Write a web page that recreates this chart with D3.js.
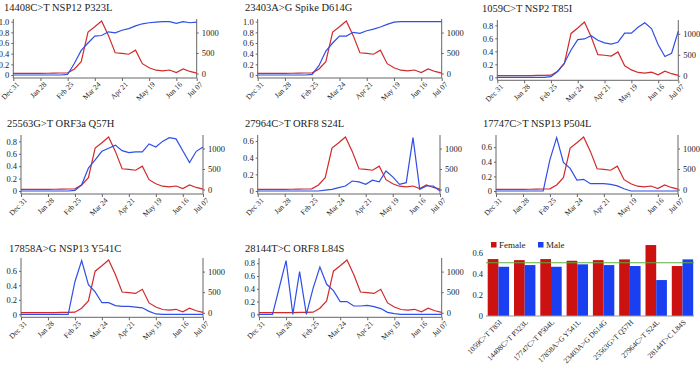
<!DOCTYPE html>
<html>
<head>
<meta charset="utf-8">
<script src="https://cdn.jsdelivr.net/npm/d3@7"></script>
<style>
    body { margin: 0; background: #fff; }
    svg text { font-family: "Liberation Serif", "DejaVu Serif", serif; fill: #222; }
    .axis line { stroke: #666; }
    .axis path { display: none; }
</style>
</head>
<body>
<svg id="chart" width="700" height="365"></svg>
<script>
/** DATA */
const weeks = ["2019-12-31", "2020-01-07", "2020-01-14", "2020-01-21", "2020-01-28", "2020-02-04", "2020-02-11",
    "2020-02-18", "2020-02-25", "2020-03-03", "2020-03-10", "2020-03-17", "2020-03-24", "2020-03-31",
    "2020-04-07", "2020-04-14", "2020-04-21", "2020-04-28", "2020-05-05", "2020-05-12", "2020-05-19",
    "2020-05-26", "2020-06-02", "2020-06-09", "2020-06-16", "2020-06-23", "2020-06-30", "2020-07-07"]
const tickWeeks = ["2019-12-31", "2020-01-28", "2020-02-25", "2020-03-24", "2020-04-21", "2020-05-19", "2020-06-16", "2020-07-07"]

// weekly number of sequences (right axis, red line) - same in every panel
const weeklyCount = [2, 3, 2, 4, 5, 6, 8, 12, 15, 110, 290, 1010, 1140, 1280, 930, 505, 490, 470, 570, 240,
    140, 80, 65, 85, 25, 110, 50, 10]
const countTicks = [0, 500, 1000]

// mutation frequency per week (left axis, blue line)
const freq14408 = [0, 0, 0, 0, 0, 0, 0, 0, 0.01, 0.22, 0.46, 0.6, 0.73, 0.74, 0.81, 0.79, 0.84, 0.87, 0.92, 0.96,
    0.98, 0.99, 1.0, 1.0, 0.97, 1.0, 0.98, 0.99]
const freq23403 = [0, 0, 0, 0, 0, 0, 0, 0, 0.01, 0.18, 0.45, 0.6, 0.73, 0.73, 0.8, 0.78, 0.83, 0.86, 0.9, 0.95,
    0.99, 1.0, 1.0, 1.0, 1.0, 1.0, 1.0, 1.0]
const freq1059 = [0, 0, 0, 0, 0, 0, 0, 0, 0.01, 0.09, 0.22, 0.42, 0.58, 0.59, 0.64, 0.57, 0.53, 0.51, 0.54, 0.68,
    0.68, 0.77, 0.84, 0.75, 0.5, 0.32, 0.37, 0.71]
const freq25563 = [0, 0, 0, 0, 0, 0, 0, 0, 0.01, 0.1, 0.37, 0.5, 0.64, 0.69, 0.74, 0.65, 0.62, 0.63, 0.63, 0.76,
    0.71, 0.8, 0.86, 0.84, 0.65, 0.46, 0.64, 0.71]
const freq27964 = [0, 0, 0, 0, 0, 0, 0, 0, 0, 0, 0.01, 0.02, 0.04, 0.06, 0.12, 0.11, 0.08, 0.13, 0.11, 0.24,
    0.17, 0.08, 0.1, 0.64, 0.02, 0.06, 0.06, 0]
const freq17747 = [0, 0, 0, 0, 0, 0, 0, 0, 0.43, 0.73, 0.39, 0.31, 0.15, 0.16, 0.1, 0.1, 0.1, 0.09, 0.07, 0.03,
    0, 0, 0, 0, 0, 0, 0, 0]
const freq17858 = [0, 0, 0, 0, 0, 0, 0, 0, 0.45, 0.74, 0.41, 0.31, 0.16, 0.16, 0.12, 0.11, 0.11, 0.1, 0.09, 0.04,
    0.005, 0, 0, 0, 0, 0, 0, 0]
const freq28144 = [0, 0, 0, 0.42, 0.84, 0, 0.67, 0, 0.41, 0.74, 0.47, 0.37, 0.2, 0.2, 0.13, 0.13, 0.14, 0.12, 0.09, 0.03,
    0.01, 0, 0, 0, 0, 0, 0, 0]

const panelTitles = ["14408C>T NSP12 P323L", "23403A>G Spike D614G", "1059C>T NSP2 T85I",
    "25563G>T ORF3a Q57H", "27964C>T ORF8 S24L", "17747C>T NSP13 P504L",
    "17858A>G NSP13 Y541C", "28144T>C ORF8 L84S"]
const panelFreqs = [freq14408, freq23403, freq1059, freq25563, freq27964, freq17747, freq17858, freq28144]

// bar chart: share of female / male among carriers
const barCategories = ["1059C>T T85I", "14408C>T P323L", "17747C>T P504L", "17858A>G Y541L",
    "23403A>G D614G", "25563G>T Q57H", "27964C>T S24L", "28144T>C L84S"]
const femaleShare = [0.54, 0.53, 0.54, 0.524, 0.53, 0.537, 0.673, 0.474]
const maleShare = [0.467, 0.483, 0.467, 0.49, 0.483, 0.474, 0.341, 0.537]
const overallFemale = 0.505
const shareTicks = [0, 0.2, 0.4, 0.6]

/** LAYOUT */
const layout = [
    { x0: 13.3, x1: 196.7, top: 19, zero: 75, tx: 4, ty: 11 },
    { x0: 257.7, x1: 441.7, top: 19, zero: 75, tx: 245, ty: 11 },
    { x0: 497.3, x1: 678.3, top: 20, zero: 77.3, tx: 482, ty: 12 },
    { x0: 21, x1: 203, top: 135, zero: 191, tx: 7, ty: 127 },
    { x0: 257.7, x1: 440, top: 135, zero: 191, tx: 245, ty: 127 },
    { x0: 496, x1: 678, top: 135, zero: 191, tx: 483, ty: 127 },
    { x0: 21, x1: 203, top: 258, zero: 314.3, tx: 9, ty: 252 },
    { x0: 259, x1: 441.7, top: 258, zero: 314.3, tx: 245, ty: 252 }
]

const redLine = "#d02a2a",
    blueLine = "#2f4fe6",
    axisColor = "#666"

const parse = d3.timeParse("%Y-%m-%d")
const dates = weeks.map(parse)
const tickDates = tickWeeks.map(parse)
const fmtDate = d3.timeFormat("%b %d")
const fmtShare = d => d === 0 ? "0" : d3.format(".1f")(d)

const svg = d3.select("#chart")

/** SMALL MULTIPLES */
panelTitles.forEach((title, i) => {
    const L = layout[i]
    const freq = panelFreqs[i]
    const g = svg.append("g")

    const xScale = d3.scaleTime().domain(d3.extent(dates)).range([L.x0, L.x1])
    const leftMax = d3.max(freq) * 1.05
    const yLeft = d3.scaleLinear().domain([0, leftMax]).range([L.zero, L.top])
    const yRight = d3.scaleLinear().domain([0, 1330]).range([L.zero - 1.5, L.top])
    const base = L.zero + 3

    g.append("text")
        .attr("x", L.tx)
        .attr("y", L.ty)
        .attr("font-size", 10.5)
        .text(title)

    // axis lines
    g.append("line").attr("x1", L.x0).attr("x2", L.x1).attr("y1", base).attr("y2", base).attr("stroke", axisColor)
    g.append("line").attr("x1", L.x0).attr("x2", L.x0).attr("y1", L.top).attr("y2", base).attr("stroke", axisColor)
    g.append("line").attr("x1", L.x1).attr("x2", L.x1).attr("y1", L.top).attr("y2", base).attr("stroke", axisColor)

    g.append("g")
        .attr("class", "axis")
        .attr("transform", `translate(0,${base})`)
        .call(d3.axisBottom(xScale).tickValues(tickDates).tickFormat(fmtDate).tickSize(3))
        .call(ax => ax.selectAll("text")
            .attr("font-size", 7.5)
            .attr("x", 0).attr("y", 0).attr("dy", "0.35em")
            .attr("transform", "translate(4,5) rotate(-45)")
            .style("text-anchor", "end"))

    g.append("g")
        .attr("class", "axis")
        .attr("transform", `translate(${L.x0},0)`)
        .call(d3.axisLeft(yLeft).tickValues(d3.range(0, leftMax + 1e-9, 0.2)).tickFormat(fmtShare).tickSize(2).tickPadding(2))
        .call(ax => ax.selectAll("text").attr("font-size", 8.5))

    g.append("g")
        .attr("class", "axis")
        .attr("transform", `translate(${L.x1},0)`)
        .call(d3.axisRight(yRight).tickValues(countTicks).tickFormat(d3.format("d")).tickSize(2).tickPadding(3))
        .call(ax => ax.selectAll("text").attr("font-size", 8.5))

    const countLine = d3.line().x((d, j) => xScale(dates[j])).y(d => yRight(d))
    const freqLine = d3.line().x((d, j) => xScale(dates[j])).y(d => yLeft(d))

    g.append("path")
        .datum(weeklyCount)
        .attr("d", countLine)
        .attr("fill", "none")
        .attr("stroke", redLine)
        .attr("stroke-width", 1.2)

    g.append("path")
        .datum(freq)
        .attr("d", freqLine)
        .attr("fill", "none")
        .attr("stroke", blueLine)
        .attr("stroke-width", 1.2)
})

/** BAR CHART */
const barColors = { Female: "#cc1111", Male: "#1a3ff0" }
const xBand = d3.scaleBand().domain(barCategories).range([487.7, 693.2]).paddingInner(0.186)
const xSex = d3.scaleBand().domain(["Female", "Male"]).range([0, xBand.bandwidth()])
const yShare = d3.scaleLinear().domain([0, 0.7]).range([316, 242.2])

const bars = svg.append("g")
const barData = barCategories.flatMap((c, i) => [
    { cat: c, sex: "Female", v: femaleShare[i] },
    { cat: c, sex: "Male", v: maleShare[i] }
])

bars.selectAll("rect")
    .data(barData)
    .join("rect")
    .attr("x", d => xBand(d.cat) + xSex(d.sex))
    .attr("width", xSex.bandwidth())
    .attr("y", d => yShare(d.v))
    .attr("height", d => yShare(0) - yShare(d.v))
    .attr("fill", d => barColors[d.sex])

bars.append("line")
    .attr("x1", 486).attr("x2", 694)
    .attr("y1", yShare(overallFemale)).attr("y2", yShare(overallFemale))
    .attr("stroke", "#5fae3c").attr("stroke-width", 1.2)

bars.append("line")
    .attr("x1", 486).attr("x2", 694)
    .attr("y1", yShare(0)).attr("y2", yShare(0))
    .attr("stroke", "#999")

bars.append("g")
    .attr("class", "axis")
    .attr("transform", "translate(486,0)")
    .call(d3.axisLeft(yShare).tickValues(shareTicks).tickFormat(fmtShare).tickSize(0).tickPadding(3))
    .call(ax => ax.selectAll("text").attr("font-size", 8.5))

bars.append("g")
    .attr("class", "axis")
    .attr("transform", `translate(0,${yShare(0)})`)
    .call(d3.axisBottom(xBand).tickSize(0))
    .call(ax => ax.selectAll("text")
        .attr("font-size", 7.5)
        .attr("x", 0).attr("y", 0).attr("dy", "0.35em")
        .attr("transform", "translate(2,5) rotate(-45)")
        .style("text-anchor", "end"))

// legend
const legend = svg.append("g").attr("transform", "translate(491,242)")
    .selectAll("g")
    .data(["Female", "Male"])
    .join("g")
    .attr("transform", (d, i) => `translate(${i * 47},0)`)
legend.append("rect").attr("width", 5.5).attr("height", 5.5).attr("fill", d => barColors[d])
legend.append("text").attr("x", 8).attr("y", 5.8).attr("font-size", 9).text(d => d)
</script>
</body>
</html>
